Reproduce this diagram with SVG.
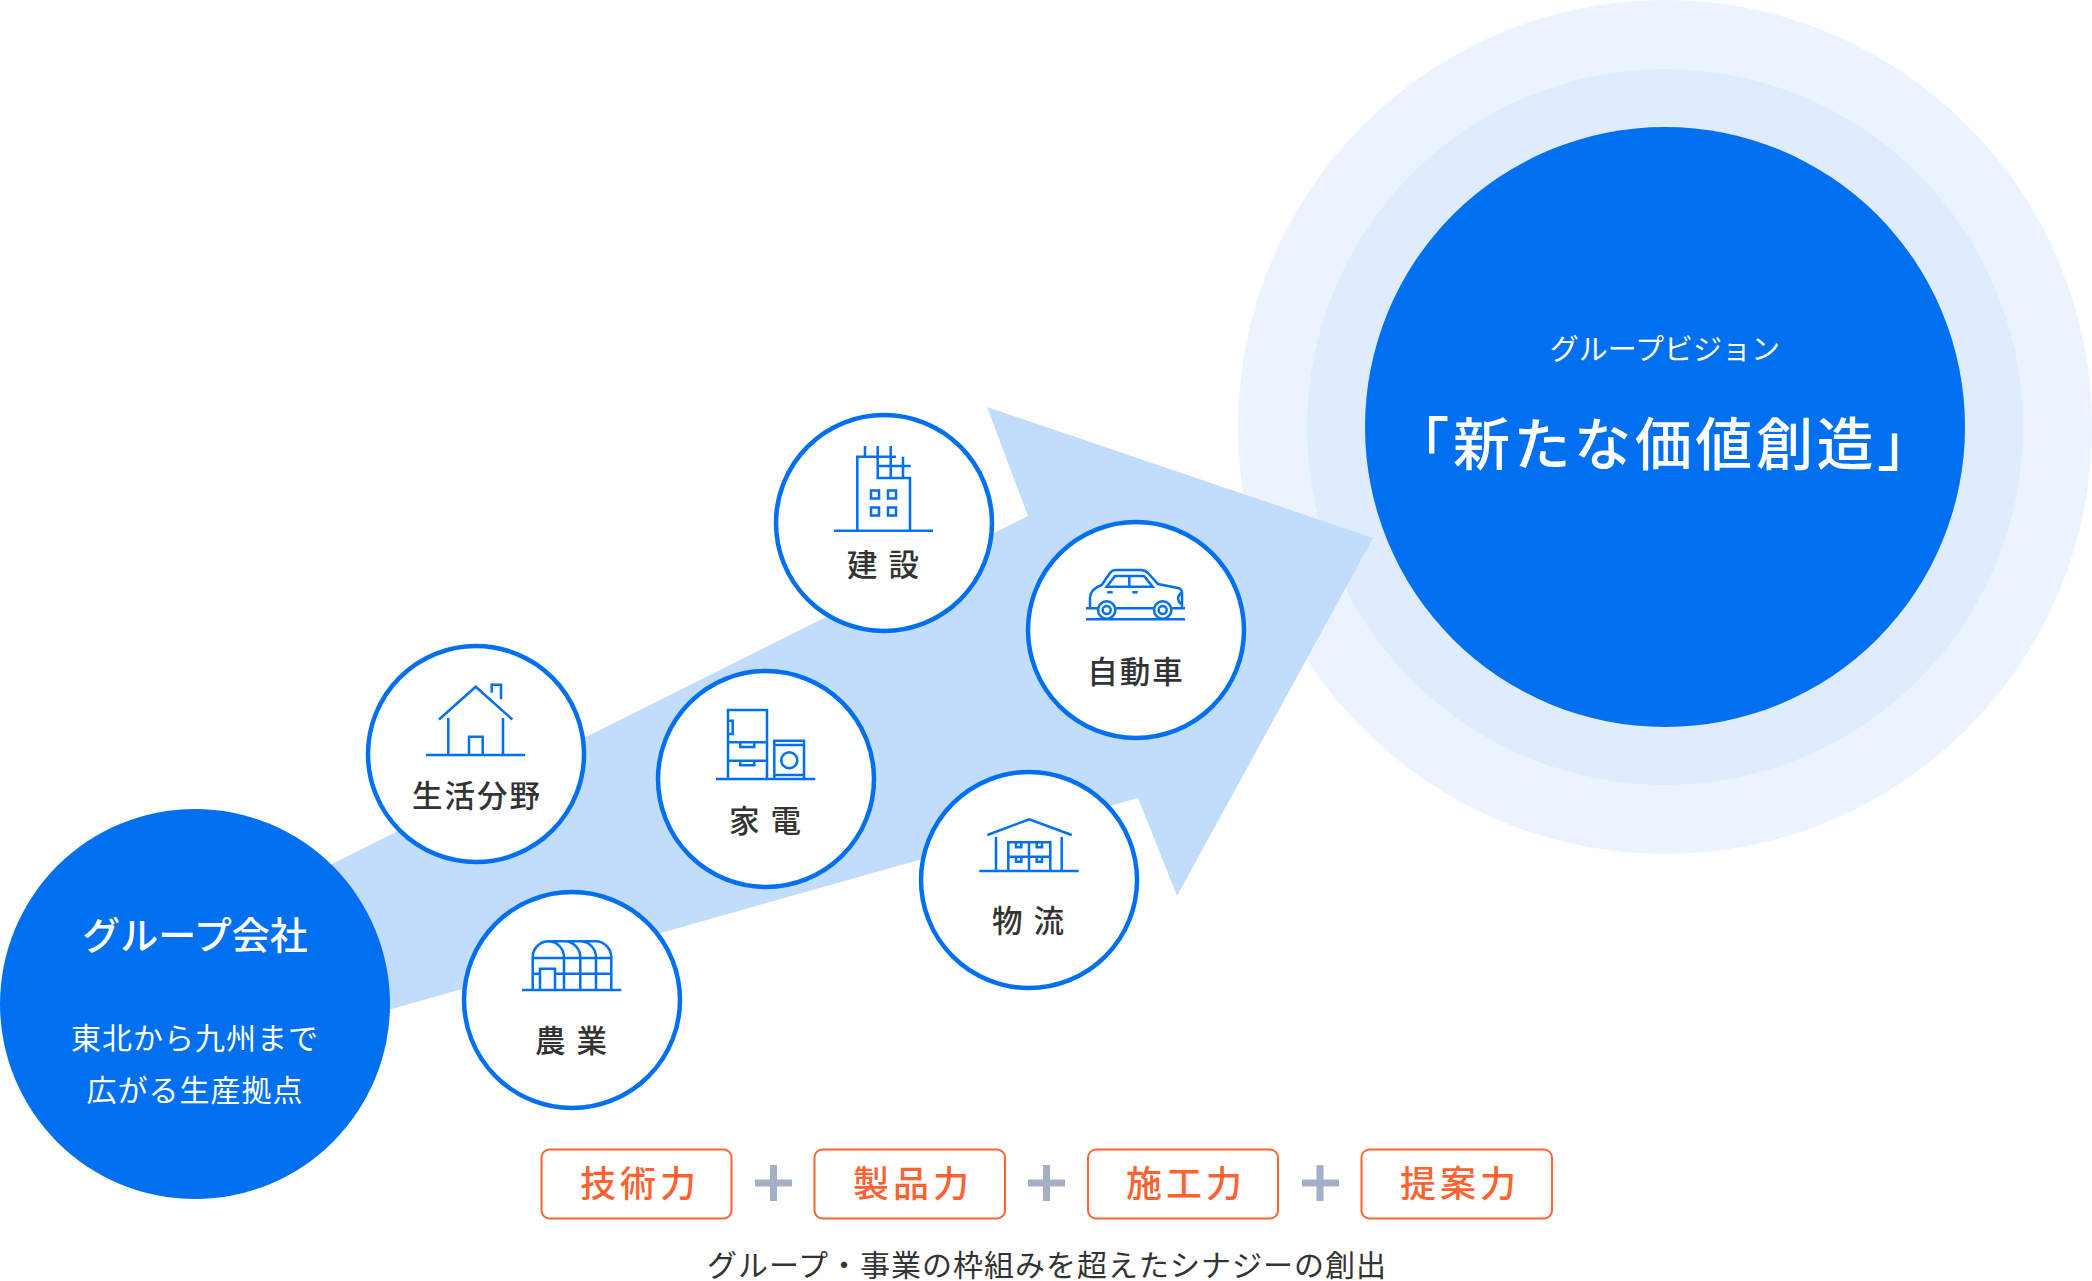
<svg xmlns="http://www.w3.org/2000/svg" width="2092" height="1281" viewBox="0 0 2092 1281">
<style>
text{font-family:"Noto Sans CJK JP","Noto Sans",sans-serif;text-anchor:middle}
.n{fill:#fff;stroke:#0070f0;stroke-width:4.5}
.i{fill:none;stroke:#0070f0;stroke-width:2.5}
.l{font-size:30.5px;fill:#333;letter-spacing:2px;font-weight:500}
.w{fill:#fff}
.b{fill:#fff;stroke:#ff6231;stroke-width:2}
.o{font-size:36px;fill:#ff6231;letter-spacing:4px;font-weight:500}
.p{stroke:#a4afc6;stroke-width:7;fill:none}
</style>
<g id="vision-halo"><circle cx="1665" cy="427" r="427" fill="#ebf4fe"/><circle cx="1665" cy="427" r="358" fill="#deecfd"/></g>
<g id="connectors"><polygon points="300,880 1028,516 987,407 1373,538 1177,896 1138,798 300,1035" fill="#c2ddfb"/></g>
<g id="group-companies"><circle cx="195" cy="1004" r="195" fill="#0070f0"/>
<text class="w" x="195" y="949" font-size="38" font-weight="500">グループ会社</text>
<text class="w" x="195" y="1049" font-size="30" letter-spacing="1">東北から九州まで</text>
<text class="w" x="195" y="1101" font-size="30" letter-spacing="1">広がる生産拠点</text></g>
<g id="vision"><circle cx="1665" cy="427" r="300" fill="#0070f0"/>
<text class="w" x="1665" y="360" font-size="29">グループビジョン</text>
<text class="w" x="1665" y="465" font-size="57" letter-spacing="3.6" font-weight="500">「新たな価値創造」</text></g>
<g id="life"><circle class="n" cx="476" cy="754" r="108"/>
<path class="i" d="M426 755H525M439 719.5L475.7 686.7 512.3 719.5M448.3 718V755M503 718V755M469 755V736.700H482.7V755M491.7 692.7V684.7H501V699.3"/>
<text class="l" x="477" y="807">生活分野</text></g>
<g id="agri"><circle class="n" cx="572" cy="1000" r="108"/>
<path class="i" d="M522 990H621.3M532.7 990V958A16 16 0 0 1 548.7 941.3H595A16 16 0 0 1 611.3 958V990M548.7 941.3A16 16 0 0 1 564 958V990M564.7 941.3A16 16 0 0 1 580.3 958V990M580.7 941.3A16 16 0 0 1 596 958V990M532.7 958H611.3M532.7 973.7H540M555 973.7H611.3M540 990V968.7H555V990"/>
<text class="l" x="572" y="1052">農 業</text></g>
<g id="appliance"><circle class="n" cx="766" cy="779" r="108"/>
<path class="i" d="M716 779H815.3M728 779V710H767V779M728 742.3H767M728 760.7H767M728 720.7H732.7V734H728M740.3 742.3V747H754.3V742.3M740.3 760.7V765.3H754.3V760.7M774.3 779V740.7H804V779M774.3 745H804M774.3 775H804"/><circle class="i" cx="789.3" cy="760.3" r="8"/>
<text class="l" x="766" y="832">家 電</text></g>
<g id="construction"><circle class="n" cx="884" cy="523" r="108"/>
<path class="i" d="M834 530.7H933M857.3 530.7V456.7H896M910 530.7V478H877.7V446M865 446V456.7M890.7 446V478M903 456.7V478M877.7 466H910.7"/>
<path class="i" d="M871 490.5h8v8h-8zM888 490.5h8v8h-8zM871 507.5h8v8h-8zM888 507.5h8v8h-8z"/>
<text class="l" x="884" y="576">建 設</text></g>
<g id="car"><circle class="n" cx="1136" cy="630" r="108"/>
<path class="i" d="M1086 619.3H1185M1086 608.3H1098M1115.5 608.3H1154M1171.5 608.3H1185M1090 608V598Q1090 589 1101.7 585L1110 573Q1112 570 1116 570H1141Q1145 570 1148 573L1158 584L1178 588Q1182 589 1182 593V608M1106.7 586.7L1115 576H1144L1152.7 586.7ZM1129.3 576V586.7M1107.3 592.3H1112.7M1132.3 592.3H1137.7M1181 593Q1175 598 1181 604"/>
<circle class="i" cx="1106.7" cy="610" r="8.7"/><circle class="i" cx="1106.7" cy="610" r="4"/><circle class="i" cx="1162.7" cy="610" r="8.7"/><circle class="i" cx="1162.7" cy="610" r="4"/>
<text class="l" x="1136" y="683">自動車</text></g>
<g id="logistics"><circle class="n" cx="1029" cy="880" r="108"/>
<path class="i" d="M979.3 871H1078.7M987.3 835L1029.3 819.3 1071.7 835M996 837V871M1061.7 837V871M1008.3 871V842.3H1050.3V871M1029 842.3V871M1008.3 856.7H1050.3M1016 842.3V847.3H1021.3V842.3M1036.7 842.3V847.3H1042V842.3M1016 856.7V861.7H1021.3V856.7M1036.7 856.7V861.700H1042V856.7"/>
<text class="l" x="1029" y="932">物 流</text></g>
<g id="strength-tech"><rect class="b" x="541.5" y="1149.5" width="190" height="69" rx="8"/><text class="o" x="640" y="1197">技術力</text></g>
<g id="strength-product"><rect class="b" x="814.500" y="1149.5" width="190.500" height="69" rx="8"/><text class="o" x="913" y="1197">製品力</text></g>
<g id="strength-build"><rect class="b" x="1088" y="1149.5" width="190" height="69" rx="8"/><text class="o" x="1186" y="1197">施工力</text></g>
<g id="strength-propose"><rect class="b" x="1361.5" y="1149.5" width="190.500" height="69" rx="8"/><text class="o" x="1460" y="1197">提案力</text></g>
<g id="plus"><path class="p" d="M755 1183H792M773.5 1165V1201M1028 1183H1065M1046.500 1165V1201M1302 1183H1339M1320 1165V1201"/></g>
<g id="caption"><text x="1047" y="1276" font-size="30" letter-spacing="1" fill="#333">グループ・事業の枠組みを超えたシナジーの創出</text></g>
</svg>
